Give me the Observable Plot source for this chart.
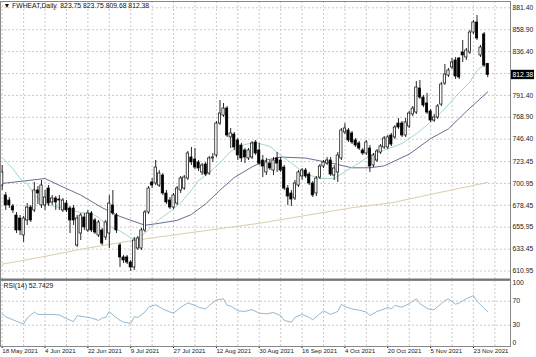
<!DOCTYPE html>
<html><head><meta charset="utf-8">
<script src="https://cdn.jsdelivr.net/npm/d3@7"></script>
<script src="https://cdn.jsdelivr.net/npm/@observablehq/plot@0.6"></script>
<style>
html,body{margin:0;padding:0;background:#fff;}
#chart{width:536px;height:357px;position:relative;overflow:hidden;background:#fff;}
#chart svg{display:block;}
</style></head><body><div id="chart"></div>
<script>
// ---- data ----
const opens = [698.8,688.6,683.4,677.3,668.0,664.9,647.5,662.9,676.2,673.2,693.7,678.3,678.3,695.7,681.4,685.5,684.4,673.2,680.3,675.2,
675.2,637.2,649.5,666.0,652.6,670.1,662.9,647.5,652.6,645.4,649.5,678.3,668.0,637.2,624.9,624.9,619.7,614.6,634.1,634.1,
652.6,671.1,701.9,700.9,698.8,709.1,690.6,683.4,676.2,680.3,693.7,695.7,706.0,727.6,725.5,722.5,712.2,720.4,711.2,726.6,
729.7,762.5,770.7,777.9,748.2,751.2,745.1,739.9,734.8,726.6,727.6,743.0,734.8,724.5,712.2,721.4,714.2,726.6,724.5,717.3,
695.7,690.6,685.5,698.8,708.1,714.2,710.1,700.9,690.6,707.0,718.3,721.4,724.5,709.1,712.2,726.6,753.3,755.3,752.3,745.1,
742.0,734.8,731.7,736.8,719.4,724.5,732.7,737.9,737.9,750.2,748.2,762.5,762.5,750.2,759.4,771.8,773.8,798.5,789.2,783.1,
774.9,765.6,768.7,782.0,803.6,811.8,820.1,827.3,829.3,835.5,830.3,835.5,856.0,866.3,832.4,854.0,823.75];
const highs = [719.4,691.6,686.5,679.3,671.1,668.0,667.0,680.3,678.3,701.9,697.8,704.0,693.7,698.8,688.6,687.5,688.6,685.5,683.4,677.3,
678.3,668.0,670.1,670.1,673.2,672.1,664.9,662.9,654.7,662.9,688.6,693.7,670.1,639.2,626.9,626.9,621.8,645.4,646.4,654.7,
673.2,697.8,706.0,724.5,714.2,711.2,693.7,686.5,690.6,697.8,708.1,709.1,733.8,737.9,736.8,724.5,721.4,722.5,728.6,731.7,
764.6,786.2,783.1,780.0,757.4,753.3,747.1,742.0,736.8,736.8,744.0,745.1,742.0,729.7,726.6,724.5,727.6,732.7,727.6,719.4,
698.8,693.7,704.0,714.2,716.3,716.3,712.2,702.9,708.1,720.4,724.5,727.6,727.6,719.4,732.7,757.4,762.5,757.4,754.3,747.1,
744.0,736.8,745.1,739.9,731.7,735.8,740.9,749.2,750.2,752.3,760.5,767.7,764.6,767.7,774.9,780.0,805.7,806.7,791.3,793.4,
776.9,771.8,782.0,804.6,823.2,819.0,829.3,830.3,830.3,847.8,839.6,858.1,868.3,873.5,842.7,856.0,823.75];
const lows = [693.7,673.2,675.2,670.1,649.5,647.5,640.3,657.7,660.8,671.1,679.3,675.2,673.2,677.3,678.3,673.2,673.2,671.1,671.1,649.5,
657.7,635.1,642.3,652.6,650.5,650.5,648.5,645.4,637.2,642.3,634.1,668.0,649.5,614.6,618.7,617.7,610.5,611.5,632.1,632.1,
650.5,669.0,695.7,698.8,696.8,688.6,679.3,674.2,674.2,678.3,690.6,693.7,704.0,719.4,715.3,713.2,709.1,708.1,709.1,722.5,
727.6,760.5,768.7,748.2,736.8,734.8,724.5,722.5,721.4,724.5,725.5,729.7,719.4,707.0,709.1,714.2,709.1,712.2,712.2,693.7,
678.3,677.3,683.4,696.8,704.0,706.0,698.8,686.5,687.5,705.0,716.3,719.4,708.1,704.0,701.9,724.5,751.2,743.0,740.9,737.9,
734.8,729.7,729.7,712.2,717.3,722.5,730.7,735.8,735.8,738.9,746.1,756.4,748.2,748.2,757.4,769.7,771.8,787.2,778.9,771.8,
763.6,763.6,766.6,780.0,801.6,809.8,818.0,807.7,807.7,825.2,827.3,833.4,854.0,847.8,830.3,820.1,809.68];
const closes = [712.2,678.3,678.3,673.2,652.6,652.6,664.9,676.2,662.9,693.7,690.6,698.8,686.5,680.3,685.5,681.4,683.4,683.4,673.2,662.9,
662.9,664.9,668.0,655.7,670.1,652.6,650.5,660.8,639.2,660.8,680.3,670.1,652.6,624.9,621.8,619.7,614.6,642.3,644.4,652.6,
671.1,695.7,698.8,717.3,711.2,690.6,681.4,676.2,688.6,695.7,706.0,707.0,731.7,722.5,717.3,716.3,719.4,710.1,726.6,727.6,
762.5,772.8,777.9,750.2,752.3,737.9,729.7,726.6,727.6,734.8,742.0,731.7,721.4,718.3,722.5,716.3,724.5,721.4,714.2,695.7,
687.5,684.4,700.9,712.2,714.2,708.1,700.9,688.6,706.0,718.3,722.5,724.5,710.1,716.3,729.7,755.3,757.4,745.1,743.0,739.9,
736.8,731.7,743.0,718.3,729.7,733.8,738.9,747.1,748.2,740.9,758.4,758.4,750.2,763.6,772.8,777.9,799.5,789.2,781.0,773.8,
765.6,768.7,780.0,802.6,812.9,817.0,825.2,810.8,809.8,832.4,837.5,856.0,866.3,849.9,840.6,822.1,812.38];

// moving averages (bar index, value)
const maFastIdx = [0,3,5,7,9,12,15,18,22,25,27,30,33,36,38,40,42,44,47,50,53,55,58,61,64,68,71,75,78,82,85,89,93,96,100,103,107,112,116,120,123,128,131,133,136];
const maFastVal = [727.6,716,706,701,689,680,677,675,671,670,666,657,652,645,644,650,657,664,672,681,694,704,712,722,734,741,743,739,730,719,711,706,706,713,722,730,735,742,752,764,774,794,805,817,825];
const maMidIdx = [0,5,12,16,22,28,33,40,44,49,53,57,61,65,70,74,78,85,92,98,103,107,114,120,125,130,136];
const maMidVal = [701,703,706,699,689,676,667,658,660,663,669,680,694,707,718,725,728,727,722,717,717,719,731,747,757,775,795];
const maSlowIdx = [0,12,23,36,48,60,72,85,98,109,123,136];
const maSlowVal = [618,626,634,642,648,654,660,668,676,681,692,702];

// RSI(14) points
const rsiIdx = [0,1,3,6,7,9,10,12,14,16,18,20,21,23,25,27,28,29,30,31,33,34,36,37,38,40,41,43,45,47,48,50,52,54,55,57,58,60,62,63,64,66,68,70,72,74,76,78,79,81,82,84,86,87,89,90,92,94,95,96,98,100,102,103,105,107,108,109,110,112,114,116,117,119,120,121,123,124,125,127,128,130,132,133,134,135,136];
const rsiVal = [49,44,39,32,42,52,48,48,48,47,41,36,46,44,42,38,42,43,53,47,38,35,33,44,43,52,60,64,57,52,50,60,67,63,60,57,63,72,74,63,62,54,53,56,50,49,51,46,38,35,43,48,43,39,49,54,48,53,65,61,57,55,52,46,53,57,60,57,63,60,66,74,66,58,56,56,66,71,74,65,67,74,79.5,70,64,58,52.74];

// axes / labels
const priceTicks = [881.40,858.90,836.40,813.90,791.40,768.90,746.40,723.45,700.95,678.45,655.95,633.45,610.95];
const rsiTicks = [100,70,30,0];
const rsiLevels = [70,30];
const gridIdx = [0,6,12,18,24,30,36,42,48,54,60,66,72,78,84,90,96,102,108,114,120,126,132,138];
const dateTickIdx = [0,12,24,36,48,60,72,84,96,108,120,132];
const dateTickLabels = ["18 May 2021","4 Jun 2021","22 Jun 2021","9 Jul 2021","27 Jul 2021","12 Aug 2021","30 Aug 2021","16 Sep 2021","4 Oct 2021","20 Oct 2021","5 Nov 2021","23 Nov 2021"];
const titleText = "\u25BC FWHEAT,Daily  823.75 823.75 809.68 812.38";
const rsiTitle = "RSI(14) 52.7429";
const lastPrice = 812.38;

// ---- build ----
const bars = opens.map((o, i) => ({i, open: o, high: highs[i], low: lows[i], close: closes[i]}));
const toPts = (idx, val) => idx.map((d, k) => ({i: d, v: val[k]}));
const fast = toPts(maFastIdx, maFastVal), mid = toPts(maMidIdx, maMidVal), slow = toPts(maSlowIdx, maSlowVal);
const rsiPts = toPts(rsiIdx, rsiVal);
const dateLabel = new Map(dateTickIdx.map((d, k) => [d, dateTickLabels[k]]));

const FONT = '"Liberation Sans Narrow","Arial Narrow","Liberation Sans",Arial,sans-serif';
const xDomain = [-0.476, 142.38];
const gridStyle = {stroke: "#cacaca", strokeDasharray: "2,2", strokeWidth: 1};
const boxBars = 24 / 3.57;

const main = Plot.plot({
  width: 536, height: 280,
  marginLeft: 0, marginRight: 26, marginTop: 1, marginBottom: 1,
  style: {background: "#fff", fontFamily: FONT, fontSize: "7px", color: "#111"},
  x: {type: "linear", domain: xDomain, axis: null},
  y: {type: "linear", domain: [602.25, 887.87], axis: null},
  marks: [
    Plot.ruleY(priceTicks, gridStyle),
    Plot.ruleX(gridIdx, gridStyle),
    Plot.line(slow, {x: "i", y: "v", stroke: "#dccdaa", strokeWidth: 1}),
    Plot.line(mid, {x: "i", y: "v", stroke: "#5a5c88", strokeWidth: 0.9}),
    Plot.line(fast, {x: "i", y: "v", stroke: "#96d4c6", strokeWidth: 0.9}),
    Plot.ruleX(bars, {x: "i", y1: "low", y2: "high", stroke: "#000", strokeWidth: 0.85}),
    Plot.rect(bars, {x1: d => d.i - 0.32, x2: d => d.i + 0.32, y1: "open", y2: "close",
      fill: d => d.close >= d.open ? "#fff" : "#000", stroke: "#000", strokeWidth: 0.7}),
    Plot.axisY({anchor: "right", ticks: priceTicks, tickFormat: d => d.toFixed(2), tickSize: 0, tickPadding: 2,
      label: null, fontSize: 6.8, fill: "#222"}),
    Plot.rect([lastPrice], {x1: xDomain[1], x2: xDomain[1] + boxBars, y1: d => d - 4.8, y2: d => d + 4.8, fill: "#000"}),
    Plot.text([lastPrice], {x: xDomain[1], y: d => d, text: d => d.toFixed(2), fill: "#fff", textAnchor: "start", dx: 2, fontSize: 6.8}),
    Plot.text([titleText], {frameAnchor: "top-left", dx: 3, dy: 2, fontSize: 6.8, fill: "#111"}),
    Plot.frame({stroke: "#888"}),
    Plot.ruleY([602.25], {stroke: "#777", strokeWidth: 2})
  ]
});

const rsi = Plot.plot({
  width: 536, height: 77,
  marginLeft: 0, marginRight: 26, marginTop: 0, marginBottom: 11,
  style: {background: "#fff", fontFamily: FONT, fontSize: "7px", color: "#111"},
  x: {type: "linear", domain: xDomain, axis: null},
  y: {type: "linear", domain: [-5.5, 104.5], axis: null},
  marks: [
    Plot.ruleX(gridIdx, gridStyle),
    Plot.ruleY(rsiLevels, gridStyle),
    Plot.line(rsiPts, {x: "i", y: "v", stroke: "#93b8d2", strokeWidth: 1}),
    Plot.axisY({anchor: "right", ticks: rsiTicks, tickFormat: d => String(d), tickSize: 0, tickPadding: 2,
      label: null, fontSize: 6.8, fill: "#222"}),
    Plot.axisX({anchor: "bottom", ticks: dateTickIdx, tickFormat: d => dateLabel.get(d), textAnchor: "start",
      tickSize: 2, tickPadding: 0, label: null, fontSize: 6.2, fill: "#222"}),
    Plot.text([rsiTitle], {frameAnchor: "top-left", dx: 3, dy: 3, fontSize: 6.8, fill: "#111"}),
    Plot.frame({stroke: "#888"})
  ]
});

const host = document.getElementById("chart");
host.appendChild(main);
host.appendChild(rsi);
</script>
</body></html>
